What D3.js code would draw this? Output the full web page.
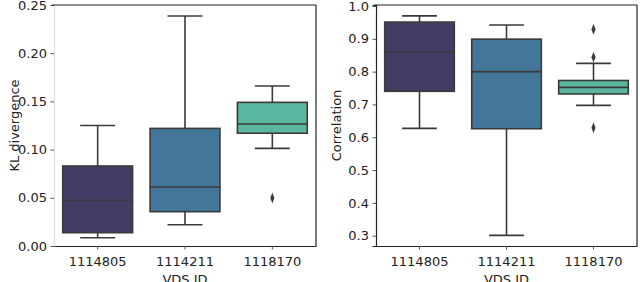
<!DOCTYPE html>
<html lang="en">
<head>
  <meta charset="UTF-8" />
  <title>KL divergence and correlation by VDS</title>
  <style>
    body { margin: 0; padding: 0; background: #fff; }
    svg { display: block; }
    svg text { font-family: "DejaVu Sans", sans-serif; }
  </style>
  <script src="https://d3js.org/d3.v7.min.js"></script>
</head>
<body>
  <svg width="640" height="282"></svg>

  <script>
    const vdsIds = ["1114805", "1114211", "1118170"];
    const boxColors = ["#433c64", "#43779a", "#5bb6a0"];

    // KL divergence box stats (whisker low, q1, median, q3, whisker high)
    const klLow = [0.0086, 0.0221, 0.1013];
    const klQ1 = [0.0138, 0.0356, 0.117];
    const klMedian = [0.0474, 0.0612, 0.1266];
    const klQ3 = [0.083, 0.122, 0.149];
    const klHigh = [0.125, 0.2386, 0.166];
    const klOutliers = [[], [], [0.0498]];
    const klTicks = [0, 0.05, 0.10, 0.15, 0.20, 0.25];

    // Correlation box stats
    const corrLow = [0.627, 0.301, 0.697];
    const corrQ1 = [0.740, 0.626, 0.732];
    const corrMedian = [0.859, 0.800, 0.752];
    const corrQ3 = [0.951, 0.899, 0.773];
    const corrHigh = [0.970, 0.942, 0.825];
    const corrOutliers = [[], [], [0.929, 0.844, 0.629]];
    const corrTicks = [0.3, 0.4, 0.5, 0.6, 0.7, 0.8, 0.9, 1.0];

    const svg = d3.select("svg");
    const edge = "#3a3a3a";
    const font = "DejaVu Sans";

    function drawPanel(opts) {
      const g = svg.append("g");
      const x = d3.scaleBand().domain(vdsIds).range(opts.xRange).padding(0);
      const y = d3.scaleLinear().domain(opts.yDomain).range([246, 5]);
      const [x0, x1] = opts.xRange;

      const rows = vdsIds.map((id, i) => ({
        id, i,
        low: opts.low[i], q1: opts.q1[i], med: opts.median[i],
        q3: opts.q3[i], high: opts.high[i], out: opts.outliers[i]
      }));

      const bw = x.bandwidth() * 0.8;
      const cx = d => x(d.id) + x.bandwidth() / 2;

      const box = g.selectAll("g.box").data(rows).join("g").attr("class", "box");

      // whiskers
      box.append("line")
        .attr("x1", cx).attr("x2", cx)
        .attr("y1", d => y(d.q3)).attr("y2", d => y(d.high))
        .attr("stroke", edge).attr("stroke-width", 1.6);
      box.append("line")
        .attr("x1", cx).attr("x2", cx)
        .attr("y1", d => y(d.q1)).attr("y2", d => y(d.low))
        .attr("stroke", edge).attr("stroke-width", 1.6);
      // caps
      box.append("line")
        .attr("x1", d => cx(d) - bw / 4).attr("x2", d => cx(d) + bw / 4)
        .attr("y1", d => y(d.high)).attr("y2", d => y(d.high))
        .attr("stroke", edge).attr("stroke-width", 1.6);
      box.append("line")
        .attr("x1", d => cx(d) - bw / 4).attr("x2", d => cx(d) + bw / 4)
        .attr("y1", d => y(d.low)).attr("y2", d => y(d.low))
        .attr("stroke", edge).attr("stroke-width", 1.6);
      // box
      box.append("rect")
        .attr("x", d => cx(d) - bw / 2)
        .attr("width", bw)
        .attr("y", d => y(d.q3))
        .attr("height", d => y(d.q1) - y(d.q3))
        .attr("fill", d => boxColors[d.i])
        .attr("stroke", edge).attr("stroke-width", 1.6);
      // median
      box.append("line")
        .attr("x1", d => cx(d) - bw / 2).attr("x2", d => cx(d) + bw / 2)
        .attr("y1", d => y(d.med)).attr("y2", d => y(d.med))
        .attr("stroke", edge).attr("stroke-width", 1.6);
      // outliers
      const diamond = d3.symbol().type(d3.symbolDiamond).size(22);
      box.selectAll("path.flier")
        .data(d => d.out.map(v => ({ v, c: cx(d) })))
        .join("path")
        .attr("class", "flier")
        .attr("d", diamond)
        .attr("transform", d => `translate(${d.c},${y(d.v)}) scale(0.8,1.25)`)
        .attr("fill", edge);

      // axes
      const yAxis = g.append("g")
        .attr("transform", `translate(${x0},0)`)
        .call(d3.axisLeft(y).tickValues(opts.ticks).tickFormat(d3.format(opts.fmt))
          .tickSize(3.5).tickPadding(3.5))
        .attr("font-family", font).attr("font-size", 13);
      yAxis.select(".domain").attr("stroke", opts.leftSpine).attr("stroke-width", 1.2);
      yAxis.selectAll(".tick line").attr("stroke", "#555");
      yAxis.selectAll("text").attr("fill", "#222");

      const xAxis = g.append("g")
        .attr("transform", "translate(0,246)")
        .call(d3.axisBottom(x).tickSize(3.5).tickPadding(7).tickSizeOuter(0))
        .attr("font-family", font).attr("font-size", 13);
      xAxis.select(".domain").attr("stroke", "#222").attr("stroke-width", 1.2);
      xAxis.selectAll(".tick line").attr("stroke", "#555");
      xAxis.selectAll("text").attr("fill", "#222");

      // top and right spines
      g.append("line").attr("x1", x0 - 2).attr("x2", x1)
        .attr("y1", 5).attr("y2", 5).attr("stroke", "#222").attr("stroke-width", 1.2);
      g.append("line").attr("x1", x1).attr("x2", x1)
        .attr("y1", 5).attr("y2", 246).attr("stroke", "#222").attr("stroke-width", 1.2);

      g.append("text")
        .attr("x", (x0 + x1) / 2).attr("y", 284)
        .attr("text-anchor", "middle").attr("font-family", font)
        .attr("font-size", 13).attr("fill", "#222")
        .text("VDS ID");
      g.append("text")
        .attr("transform", `translate(${opts.labelX},125.5) rotate(-90)`)
        .attr("text-anchor", "middle").attr("font-family", font)
        .attr("font-size", 13).attr("fill", "#222")
        .text(opts.label);
    }

    drawPanel({
      xRange: [54, 316], yDomain: [0, 0.25],
      low: klLow, q1: klQ1, median: klMedian, q3: klQ3, high: klHigh, outliers: klOutliers,
      ticks: klTicks, fmt: ".2f", label: "KL divergence", labelX: 19, leftSpine: "#dddddd"
    });

    drawPanel({
      xRange: [376, 637], yDomain: [0.2686, 1.003],
      low: corrLow, q1: corrQ1, median: corrMedian, q3: corrQ3, high: corrHigh, outliers: corrOutliers,
      ticks: corrTicks, fmt: ".1f", label: "Correlation", labelX: 341, leftSpine: "#222"
    });
  </script>
</body>
</html>
